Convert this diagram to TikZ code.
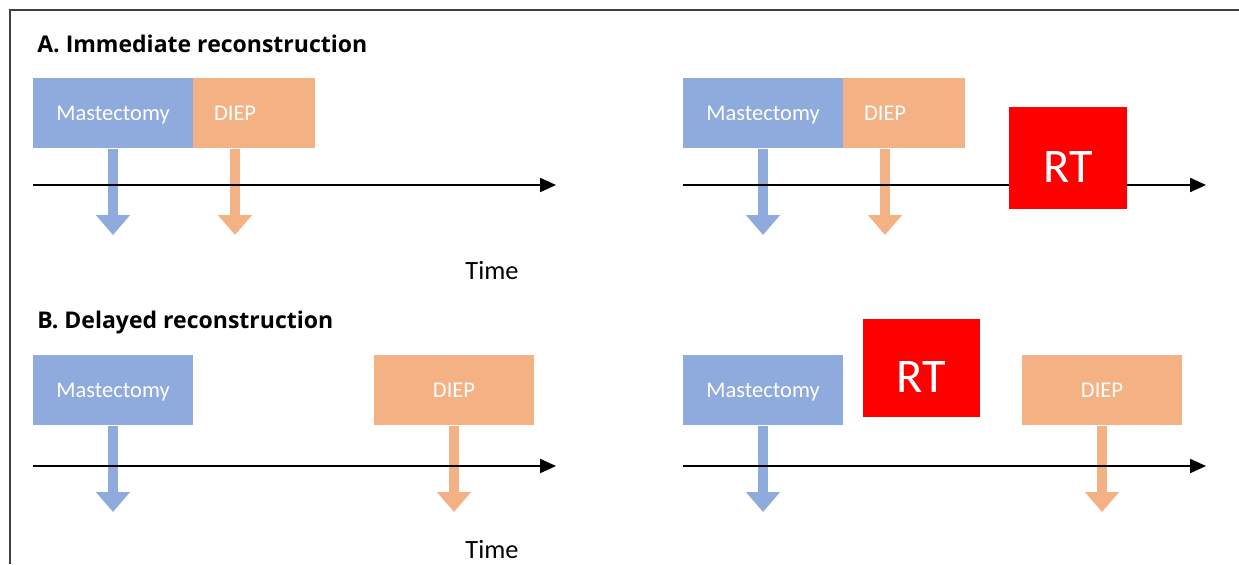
\documentclass[tikz,border=0pt]{standalone}
\usepackage{fontspec}
\setmainfont{Carlito}
\newfontfamily\titlefont{Open Sans}
\usetikzlibrary{arrows.meta}
\definecolor{mastblue}{HTML}{8FAADC}
\definecolor{diepor}{HTML}{F4B183}
\tikzset{box/.style={inner sep=0, minimum width=3.2cm, minimum height=1.42cm, text=white, text height=8.2pt, text depth=0pt, font=\fontsize{12.8}{15}\selectfont}}
\tikzset{mast box/.style={box, fill=mastblue}}
\tikzset{diep box/.style={box, fill=diepor}}
\tikzset{diep left/.style={diep box, minimum width=2.44cm, text width=1.6cm, inner xsep=0.42cm, align=left}}
\tikzset{rt box/.style={inner sep=0, fill=red, text=white, text height=28pt, text depth=0pt, font=\fontsize{27.5}{32}\selectfont}}
\tikzset{down arrow/.style={line width=0.2cm, -{Triangle[width=0.66cm,length=0.4cm]}}}
\tikzset{time line/.style={line width=0.75pt, -{Triangle[width=8pt,length=9pt]}}}
\tikzset{title label/.style={anchor=base west, inner sep=0, font=\titlefont\bfseries\fontsize{13.1}{16}\selectfont}}
\tikzset{time label/.style={anchor=base, inner sep=0, font=\fontsize{15}{18}\selectfont}}

\begin{document}
\begin{tikzpicture}[x=0.02cm, y=-0.02cm]

            \useasboundingbox (0,0) rectangle (1239,564);

            %枠
            \draw[line width=0.8pt, black!75] (10,564) -- (10,10) -- (1239,10);

            %見出し
            \node[title label] (titleA) at (37,52.3) {A. Immediate reconstruction};
            \node[title label] (titleB) at (37,328) {B. Delayed reconstruction};

            %四角形
            \node[mast box] (mastAL) at (113,113) {Mastectomy};
            \node[diep left] (diepAL) at (254,113) {DIEP};
            \node[mast box] (mastAR) at (763,113) {Mastectomy};
            \node[diep left] (diepAR) at (904,113) {DIEP};
            \node[mast box] (mastBL) at (113,390) {Mastectomy};
            \node[diep box] (diepBL) at (454,390) {DIEP};
            \node[mast box] (mastBR) at (763,390) {Mastectomy};
            \node[diep box] (diepBR) at (1102,390) {DIEP};

            %矢印
            \coordinate (tipAL1) at (113,235);
            \coordinate (tipAL2) at (235,235);
            \coordinate (tipAR1) at (763,235);
            \coordinate (tipAR2) at (885,235);
            \coordinate (tipBL1) at (113,512);
            \coordinate (tipBL2) at (454,512);
            \coordinate (tipBR1) at (763,512);
            \coordinate (tipBR2) at (1102,512);
            \draw[down arrow, mastblue] (mastAL.south) -- (tipAL1);
            \draw[down arrow, diepor] (tipAL2 |- diepAL.south) -- (tipAL2);
            \draw[down arrow, mastblue] (mastAR.south) -- (tipAR1);
            \draw[down arrow, diepor] (tipAR2 |- diepAR.south) -- (tipAR2);
            \draw[down arrow, mastblue] (mastBL.south) -- (tipBL1);
            \draw[down arrow, diepor] (diepBL.south) -- (tipBL2);
            \draw[down arrow, mastblue] (mastBR.south) -- (tipBR1);
            \draw[down arrow, diepor] (diepBR.south) -- (tipBR2);

            %時間軸
            \coordinate (startAL) at (33,185);
            \coordinate (endAL) at (556,185);
            \coordinate (startAR) at (683,185);
            \coordinate (endAR) at (1206,185);
            \coordinate (startBL) at (33,466);
            \coordinate (endBL) at (556,466);
            \coordinate (startBR) at (683,466);
            \coordinate (endBR) at (1206,466);
            \draw[time line] (startAL) -- (endAL);
            \draw[time line] (startAR) -- (endAR);
            \draw[time line] (startBL) -- (endBL);
            \draw[time line] (startBR) -- (endBR);

            %RT
            \node[rt box, minimum width=2.36cm, minimum height=2.04cm] (rtA) at (1068,158) {RT};
            \node[rt box, minimum width=2.34cm, minimum height=1.96cm] (rtB) at (921.5,368) {RT};

            %ラベル
            \node[time label] (timeA) at (492,279) {Time};
            \node[time label] (timeB) at (492,558) {Time};

          \end{tikzpicture}
\end{document}
